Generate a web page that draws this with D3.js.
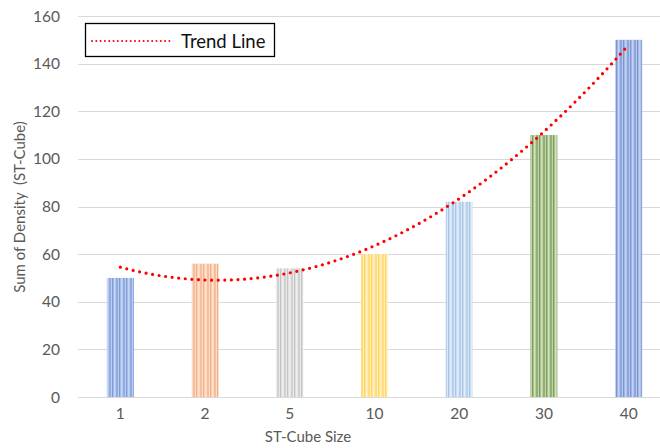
<!DOCTYPE html>
<html>
<head>
<meta charset="utf-8">
<script src="https://cdn.jsdelivr.net/npm/d3@7"></script>
<style>
  html, body { margin: 0; padding: 0; background: #fff; }
  svg { display: block; font-family: Lato, "Open Sans", sans-serif; }
</style>
</head>
<body>
<svg id="chart" width="660" height="448"></svg>
<script>
// Cube sizes and the summed density for each
const sizes = ["1", "2", "5", "10", "20", "30", "40"];
const density = [50, 56, 54, 60, 82, 110, 150];
const yTicks = [0, 20, 40, 60, 80, 100, 120, 140, 160];

// Striped fill per bar: [base, dark stripe, light stripe]
const barColors = [
  ["#a6bce7", "#7b9cdb", "#c6d5f1"],
  ["#f9cfb3", "#f3ae82", "#fde3d2"],
  ["#dedede", "#c4c4c4", "#efefef"],
  ["#ffe59c", "#ffd660", "#fff1c8"],
  ["#c9dcf1", "#a5c5e9", "#e2edf9"],
  ["#a9c18e", "#7aa055", "#cfdebe"],
  ["#a1b6e4", "#7796d7", "#c4d2f0"]
];

const svg = d3.select("#chart");
const plotLeft = 78, plotRight = 671, plotTop = 16, plotBottom = 397;

const x = d3.scaleBand().domain(sizes).range([plotLeft, plotRight]).paddingInner(0.68).paddingOuter(0.34);
const y = d3.scaleLinear().domain([0, 160]).range([plotBottom, plotTop]);

// stripe patterns
const defs = svg.append("defs");
barColors.forEach((c, i) => {
  const p = defs.append("pattern")
    .attr("id", "stripe" + i)
    .attr("patternUnits", "userSpaceOnUse")
    .attr("width", 7).attr("height", 10);
  p.append("rect").attr("width", 7).attr("height", 10).attr("fill", c[0]);
  p.append("rect").attr("x", 0).attr("width", 1).attr("height", 10).attr("fill", c[1]);
  p.append("rect").attr("x", 2).attr("width", 1.5).attr("height", 10).attr("fill", c[2]);
  p.append("rect").attr("x", 4.5).attr("width", 1).attr("height", 10).attr("fill", c[1]);
  p.append("rect").attr("x", 6).attr("width", 0.7).attr("height", 10).attr("fill", c[2]);
});

// gridlines
svg.append("g").selectAll("line").data(yTicks).join("line")
  .attr("x1", plotLeft).attr("x2", 660)
  .attr("y1", d => Math.round(y(d)) + 0.5).attr("y2", d => Math.round(y(d)) + 0.5)
  .attr("stroke", "#d9d9d9").attr("stroke-width", 1);

// y tick labels
svg.append("g").selectAll("text").data(yTicks).join("text")
  .attr("x", 60).attr("y", d => y(d) + 5.5)
  .attr("text-anchor", "end")
  .attr("font-size", 15.5).attr("fill", "#595959")
  .text(d => d);

// bars
const bw = 27;
svg.append("g").selectAll("rect").data(density).join("rect")
  .attr("x", (d, i) => x(sizes[i]) + x.bandwidth() / 2 - bw / 2)
  .attr("width", bw)
  .attr("y", d => y(d))
  .attr("height", d => y(0) - y(d))
  .attr("fill", (d, i) => `url(#stripe${i})`);

// x tick labels
svg.append("g").selectAll("text").data(sizes).join("text")
  .attr("x", d => x(d) + x.bandwidth() / 2)
  .attr("y", 419)
  .attr("text-anchor", "middle")
  .attr("font-size", 15.5).attr("fill", "#595959")
  .text(d => d);

// axis titles
svg.append("text")
  .attr("x", 308).attr("y", 442)
  .attr("text-anchor", "middle")
  .attr("font-size", 15).attr("fill", "#595959")
  .text("ST-Cube Size");

svg.append("text")
  .attr("transform", "translate(25,207) rotate(-90)")
  .attr("text-anchor", "middle")
  .attr("font-size", 15).attr("fill", "#595959")
  .style("white-space", "pre")
  .text("Sum of Density  (ST-Cube)");

// second-order polynomial trend (least squares over category index 1..n)
const n = density.length;
const idx = d3.range(1, n + 1);
const mx = d3.mean(idx), my = d3.mean(density);
const u = idx.map(v => v - mx);
const u2m = d3.mean(u, v => v * v);
const q = u.map(v => v * v - u2m);
const b1 = d3.sum(u, (v, i) => v * density[i]) / d3.sum(u, v => v * v);
const b2 = d3.sum(q, (v, i) => v * density[i]) / d3.sum(q, v => v * v);
const fit = t => my + b1 * (t - mx) + b2 * ((t - mx) * (t - mx) - u2m);

const cx = t => x(sizes[0]) + x.bandwidth() / 2 + (t - 1) * x.step();
const samples = d3.range(1, n + 0.0001, 0.05);
svg.append("path")
  .datum(samples)
  .attr("d", d3.line().x(t => cx(t)).y(t => y(fit(t))))
  .attr("fill", "none")
  .attr("stroke", "#ff0000")
  .attr("stroke-width", 3.2)
  .attr("stroke-linecap", "round")
  .attr("stroke-dasharray", "0 6.6");

// legend
const lg = svg.append("g");
lg.append("rect")
  .attr("x", 85.5).attr("y", 23.5).attr("width", 189).attr("height", 33)
  .attr("fill", "#fff").attr("stroke", "#000").attr("stroke-width", 1.3);
lg.append("line")
  .attr("x1", 92).attr("x2", 170).attr("y1", 41).attr("y2", 41)
  .attr("stroke", "#ff0000").attr("stroke-width", 2)
  .attr("stroke-linecap", "round").attr("stroke-dasharray", "0 4.3");
lg.append("text")
  .attr("x", 181).attr("y", 47.5)
  .attr("font-size", 18.5).attr("fill", "#111")
  .text("Trend Line");
</script>
</body>
</html>
